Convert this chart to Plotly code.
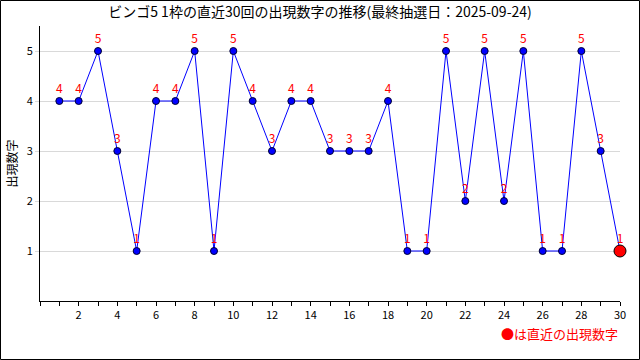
import plotly.graph_objects as go

draws = list(range(1, 31))
numbers = [4, 4, 5, 3, 1, 4, 4, 5, 1, 5, 4, 3, 4, 4, 3, 3, 3, 4, 1, 1,
           5, 2, 5, 2, 5, 1, 1, 5, 3, 1]
title_text = "ビンゴ5 1枠の直近30回の出現数字の推移(最終抽選日：2025-09-24)"
y_title = "出現数字"
legend_text = "●は直近の出現数字"
x_ticks = list(range(2, 31, 2))
y_ticks = [1, 2, 3, 4, 5]

FONT = "Noto Sans CJK JP, DejaVu Sans, sans-serif"
W, H = 640, 360
L, R, T, B = 40, 20, 26, 59
pw, ph = W - L - R, H - T - B

fig = go.Figure()
fig.add_trace(go.Scatter(
    x=draws, y=numbers, mode="lines+markers+text",
    line=dict(color="#0000ff", width=1),
    marker=dict(color="#0000ff", size=7, line=dict(color="#000033", width=1)),
    text=[str(v) for v in numbers], textposition="top center",
    textfont=dict(color="#ff0000", size=12, family=FONT),
    cliponaxis=False, hoverinfo="skip", showlegend=False,
))
fig.add_trace(go.Scatter(
    x=[draws[-1]], y=[numbers[-1]], mode="markers",
    marker=dict(color="#ff0000", size=12, line=dict(color="#000000", width=1)),
    cliponaxis=False, hoverinfo="skip", showlegend=False,
))

fig.update_layout(
    width=W, height=H,
    margin=dict(l=L, r=R, t=T, b=B, autoexpand=False),
    paper_bgcolor="white", plot_bgcolor="white",
    font=dict(family=FONT, size=11, color="#000000"),
    title=dict(text=title_text, x=0.5, xanchor="center", y=1 - 12 / H, yanchor="middle",
               font=dict(size=14, family=FONT, color="#000000")),
    xaxis=dict(range=[0, 30], tickmode="array", tickvals=x_ticks, automargin=False,
               showgrid=False, zeroline=False, showline=True, linecolor="#000000", linewidth=1,
               ticks="outside", ticklen=4, tickcolor="#000000",
               minor=dict(dtick=1, tick0=0, ticks="outside", ticklen=4, tickcolor="#000000", showgrid=False),
               tickfont=dict(size=11, family=FONT)),
    yaxis=dict(range=[0, 5.5], tickmode="array", tickvals=y_ticks, automargin=False,
               showgrid=True, gridcolor="#d9d9d9", gridwidth=1, zeroline=False,
               showline=True, linecolor="#000000", linewidth=1,
               ticks="outside", ticklen=4, tickcolor="#d9d9d9",
               title=dict(text=y_title, font=dict(size=12, family=FONT), standoff=6),
               tickfont=dict(size=11, family=FONT)),
    annotations=[dict(text=legend_text, xref="paper", yref="paper",
                      x=(620 - L) / pw, y=-(333 - T - ph) / ph, xanchor="right", yanchor="middle",
                      showarrow=False, font=dict(color="#ff0000", size=13, family=FONT))],
    shapes=[dict(type="rect", xref="paper", yref="paper",
                 x0=(0.5 - L) / pw, x1=(W - 0.5 - L) / pw,
                 y0=-(H - 0.5 - T - ph) / ph, y1=1 + (T - 0.5) / ph,
                 line=dict(color="#000000", width=1), layer="above")],
)

fig.write_html("out.html", config={"displayModeBar": False},
               post_script="document.body.style.margin='0';")
